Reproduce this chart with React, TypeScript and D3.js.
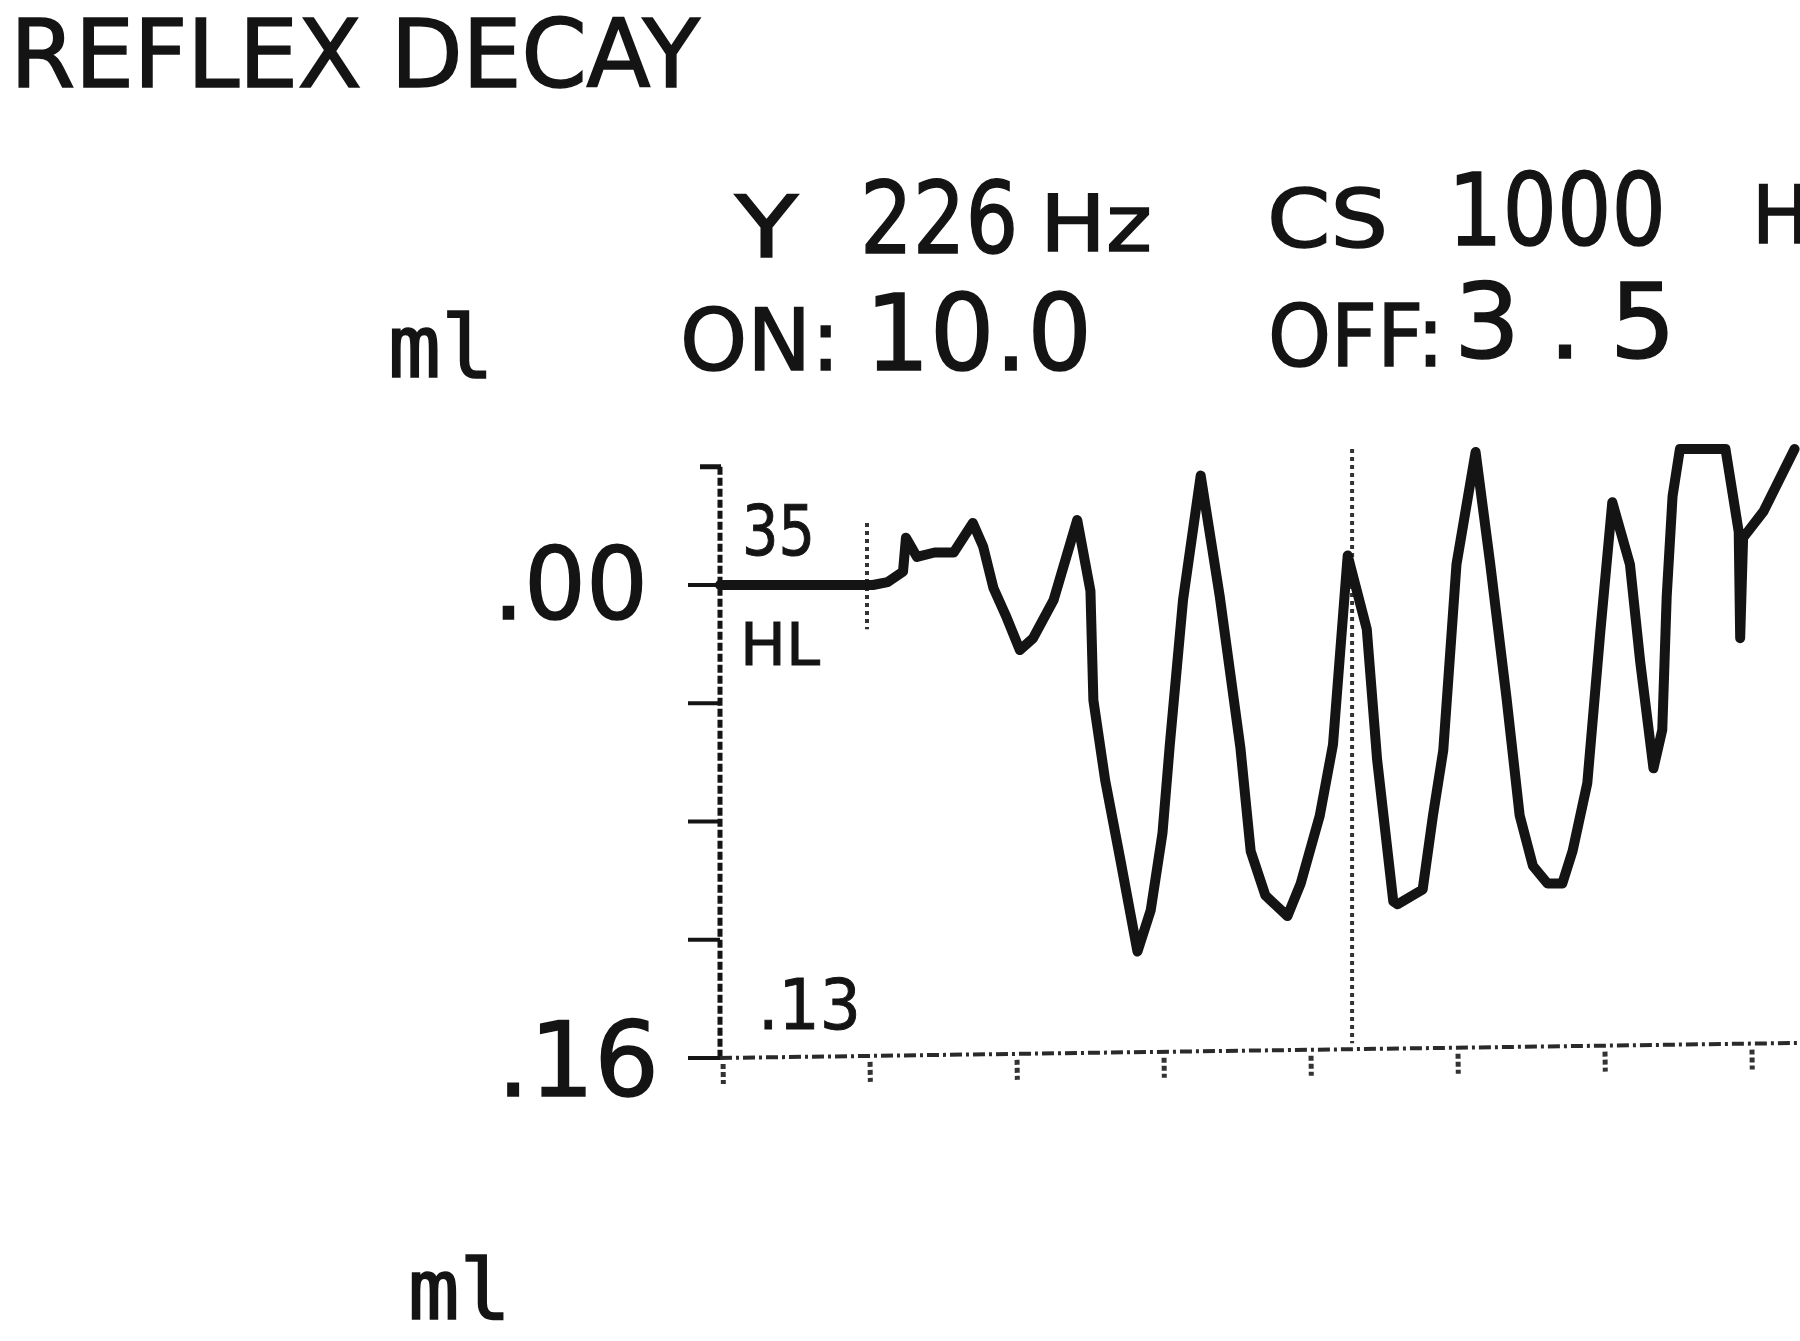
import React from "react";
import * as d3 from "d3";

// ---- data ----
const timeSec = [
  0, 1.04, 1.14, 1.245, 1.265, 1.34, 1.46, 1.59, 1.72, 1.79, 1.86, 1.95, 2.04, 2.13, 2.27,
  2.43, 2.52, 2.54, 2.62, 2.72, 2.84, 2.93, 3.01, 3.06, 3.15, 3.27, 3.40, 3.54, 3.61, 3.71,
  3.86, 3.95, 4.08, 4.17, 4.27, 4.40, 4.47, 4.58, 4.61, 4.78, 4.85, 4.92, 5.01, 5.14, 5.24,
  5.35, 5.44, 5.53, 5.63, 5.73, 5.80, 5.90, 5.99, 6.07, 6.19, 6.26, 6.35, 6.41, 6.44, 6.48,
  6.53, 6.84, 6.93, 6.94, 6.96, 7.1, 7.31,
];
const complianceMl = [
  0, 0, -0.001, -0.0045, -0.016, -0.0095, -0.011, -0.011, -0.021, -0.013, 0.001, 0.011, 0.022,
  0.018, 0.005, -0.022, 0.002, 0.039, 0.066, 0.092, 0.124, 0.11, 0.084, 0.054, 0.005, -0.037,
  0.004, 0.055, 0.09, 0.105, 0.112, 0.101, 0.078, 0.054, -0.01, 0.015, 0.059, 0.107, 0.108,
  0.103, 0.078, 0.056, -0.007, -0.045, -0.007, 0.038, 0.078, 0.095, 0.101, 0.101, 0.09, 0.067,
  0.015, -0.028, -0.007, 0.026, 0.062, 0.049, 0.004, -0.03, -0.046, -0.046, -0.018, 0.018,
  -0.016, -0.025, -0.046,
];
const yTickValues = [0, 0.04, 0.08, 0.12, 0.16];
const xTickValues = [0, 1, 2, 3, 4, 5, 6, 7];
const markerTimes = [1, 4.3];
const markerTops = [-0.021, -0.046];
const markerBottoms = [0.015, 0.155];

const INK = "#141414";
const FONT = "'DejaVu Sans', sans-serif";
const MONO = "'DejaVu Sans Mono', monospace";

type TProps = {
  x: number;
  y: number;
  w: number;
  fs: number;
  children: string;
  sw?: number;
  adj?: string;
  family?: string;
};
const T = ({ x, y, w, fs, children, sw = 1.5, adj = "spacingAndGlyphs", family = FONT }: TProps) => (
  <text
    x={x}
    y={y}
    fontSize={fs}
    textLength={w}
    lengthAdjust={adj}
    fill={INK}
    stroke={INK}
    strokeWidth={sw}
    fontFamily={family}
  >
    {children}
  </text>
);

export default function App() {
  const x = d3.scaleLinear().domain([0, 7]).range([720, 1749]);
  const y = d3.scaleLinear().domain([0, 0.16]).range([585, 1058]);
  const pts: [number, number][] = timeSec.map((t, i) => [t, complianceMl[i]]);
  const line = d3
    .line<[number, number]>()
    .x((d) => x(d[0]))
    .y((d) => y(d[1]));
  const ax = x(0);
  const yTop = y(-0.04);
  const yBase = y(0.16);
  const xEnd = x(7.33);

  return (
    <svg
      width={1800}
      height={1341}
      style={{ position: "absolute", left: 0, top: 0, background: "#fff" }}
    >
      <rect width={1800} height={1341} fill="#fff" />
      {/* header texts */}
      <T x={10} y={87} w={690} fs={94} adj="spacing">REFLEX DECAY</T>
      <T x={735} y={257} w={63} fs={86}>Y</T>
      <text
        transform="translate(860,253) scale(0.83,1)"
        x={0}
        y={0}
        fontSize={100}
        fill={INK}
        stroke={INK}
        strokeWidth={1.5}
        fontFamily={FONT}
      >
        226
      </text>
      <T x={1040} y={251} w={112} fs={78}>Hz</T>
      <T x={1267} y={247} w={121} fs={80}>CS</T>
      <T x={1448} y={245} w={218} fs={100}>1000</T>
      <T x={1752} y={243} w={58} fs={80}>H</T>
      <T x={388} y={377} w={106} fs={88} family={MONO}>ml</T>
      <T x={680} y={370} w={160} fs={86}>ON:</T>
      <T x={865} y={370} w={227} fs={106}>10.0</T>
      <T x={1268} y={366} w={176} fs={86}>OFF:</T>
      <T x={1454} y={358} w={222} fs={104} adj="spacing">3.5</T>

      {/* y axis labels */}
      <T x={493} y={619} w={155} fs={100}>.00</T>
      <T x={497} y={1096} w={162} fs={104}>.16</T>
      <T x={742} y={555} w={73} fs={70} sw={1}>35</T>
      <T x={740} y={665} w={80} fs={59} sw={1}>HL</T>
      <T x={758} y={1029} w={103} fs={70} sw={1}>.13</T>
      <T x={408} y={1319} w={103} fs={84} family={MONO}>ml</T>

      {/* y axis with bracket */}
      <line x1={ax - 20} x2={ax + 1} y1={yTop} y2={yTop} stroke={INK} strokeWidth={5} />
      <line
        x1={ax}
        x2={ax}
        y1={yTop}
        y2={yBase}
        stroke={INK}
        strokeWidth={5}
        strokeDasharray="8 3"
      />
      {yTickValues.map((v) => (
        <line
          key={v}
          x1={ax - 32}
          x2={ax}
          y1={y(v)}
          y2={y(v)}
          stroke={INK}
          strokeWidth={4}
        />
      ))}

      {/* x axis (slightly tilted as on the printout) */}
      <g transform={`rotate(-0.8, ${ax}, ${yBase})`}>
        <line
          x1={ax}
          x2={xEnd}
          y1={yBase}
          y2={yBase}
          stroke="#2a2a2a"
          strokeWidth={4}
          strokeDasharray="12 4 3 4"
        />
        {xTickValues.map((t) => (
          <line
            key={t}
            x1={x(t) + 3}
            x2={x(t) + 3}
            y1={yBase + 6}
            y2={yBase + 26}
            stroke="#333"
            strokeWidth={5}
            strokeDasharray="5 3"
          />
        ))}
      </g>

      {/* stimulus markers */}
      {markerTimes.map((t, i) => (
        <line
          key={t}
          x1={x(t)}
          x2={x(t)}
          y1={y(markerTops[i])}
          y2={y(markerBottoms[i])}
          stroke="#333"
          strokeWidth={4}
          strokeDasharray="4 4"
        />
      ))}

      {/* reflex decay trace */}
      <path
        d={line(pts) ?? ""}
        fill="none"
        stroke={INK}
        strokeWidth={10}
        strokeLinejoin="round"
        strokeLinecap="round"
      />
    </svg>
  );
}
